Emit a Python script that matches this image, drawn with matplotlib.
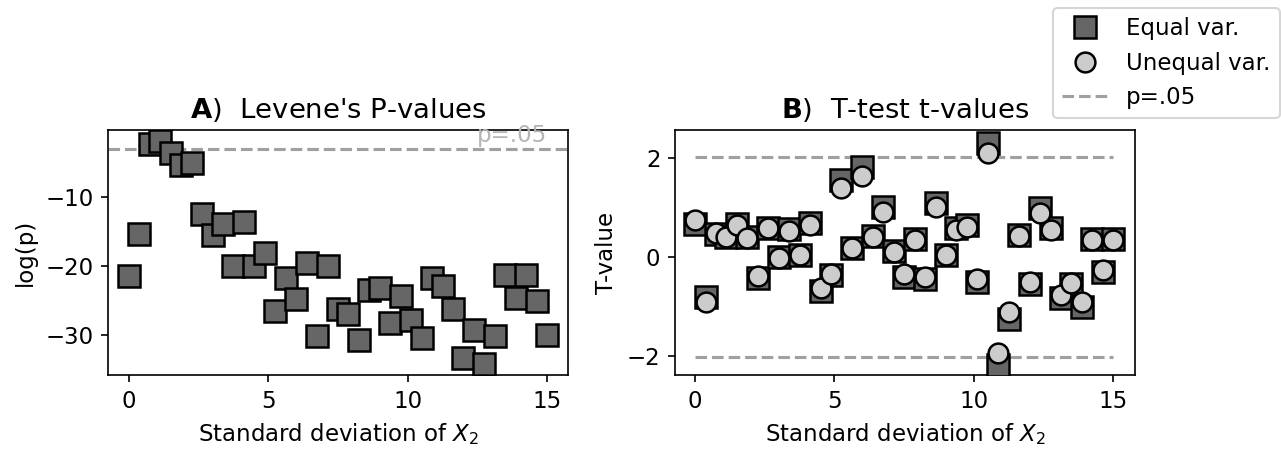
import numpy as np
import matplotlib
matplotlib.use("Agg")
import matplotlib.pyplot as plt

plt.rcParams['font.size'] = 11

# ---- data ----
sd_x2 = np.linspace(0, 15, 41)

levene_logp = [-21.4, -15.3, -2.3, -1.8, -3.6, -5.3, -5.0, -12.4, -15.5, -13.8,
               -19.9, -13.6, -20.0, -18.1, -26.5, -21.7, -24.8, -19.5, -30.2, -20.0,
               -26.2, -27.0, -30.7, -23.5, -23.1, -28.3, -24.3, -27.8, -30.4, -21.7,
               -22.8, -26.2, -33.4, -29.3, -34.2, -30.2, -21.2, -24.6, -21.3, -25.0,
               -30.0]

t_equal = [0.67, -0.81, 0.45, 0.39, 0.66, 0.39, -0.44, 0.59, -0.01, 0.55,
           0.03, 0.69, -0.69, -0.37, 1.55, 0.17, 1.82, 0.42, 1.00, 0.12,
           -0.40, 0.35, -0.46, 1.09, 0.03, 0.59, 0.64, -0.51, 2.29, -2.19,
           -1.25, 0.44, -0.55, 0.98, 0.59, -0.84, -0.55, -1.01, 0.35, -0.30,
           0.35]

t_unequal = [0.74, -0.91, 0.47, 0.39, 0.64, 0.37, -0.39, 0.57, -0.03, 0.51,
             0.03, 0.64, -0.64, -0.34, 1.39, 0.17, 1.63, 0.40, 0.91, 0.10,
             -0.34, 0.34, -0.40, 1.00, 0.03, 0.54, 0.61, -0.46, 2.10, -1.95,
             -1.11, 0.42, -0.51, 0.88, 0.54, -0.77, -0.54, -0.91, 0.34, -0.27,
             0.34]

p05_log = np.log(0.05)
t_crit = 2.02

sq_face = '#666666'
ci_face = '#cccccc'
line_col = '#a0a0a0'

fig = plt.figure(figsize=(12.81 / 1.5, 4.49 / 1.5), dpi=150)
W, H = 1281, 449
ax1 = fig.add_axes([108 / W, (H - 375) / H, 460 / W, 245 / H])
ax2 = fig.add_axes([675 / W, (H - 375) / H, 460 / W, 245 / H])

# Left panel
ax1.plot(sd_x2, levene_logp, 's', ms=11, mfc=sq_face, mec='black', mew=1.2, zorder=3)
ax1.axhline(p05_log, color=line_col, ls='--', lw=1.5, zorder=2)
ax1.text(15, p05_log + 0.3, 'p=.05', color='#b4b4b4', ha='right', va='bottom', fontsize=11)
ax1.set_xlim(-0.75, 15.75)
ax1.set_ylim(-35.8, -0.2)
ax1.set_xticks([0, 5, 10, 15])
ax1.set_yticks([-10, -20, -30])
ax1.set_ylabel('log(p)')
ax1.set_xlabel('Standard deviation of $X_2$')
ax1.set_title(r"$\bf{A}$)  Levene's P-values", fontsize=13.2)

# Right panel
h1, = ax2.plot(sd_x2, t_equal, 's', ms=11, mfc=sq_face, mec='black', mew=1.2, zorder=3,
               label='Equal var.')
h2, = ax2.plot(sd_x2, t_unequal, 'o', ms=9.5, mfc=ci_face, mec='black', mew=1.2, zorder=4,
               label='Unequal var.')
h3, = ax2.plot(sd_x2, np.full_like(sd_x2, t_crit), '--', color=line_col, lw=1.5, zorder=2,
               label='p=.05')
ax2.plot(sd_x2, np.full_like(sd_x2, -t_crit), '--', color=line_col, lw=1.5, zorder=2)
ax2.set_xlim(-0.72, 15.78)
ax2.set_ylim(-2.39, 2.56)
ax2.set_xticks([0, 5, 10, 15])
ax2.set_yticks([-2, 0, 2])
ax2.set_ylabel('T-value')
ax2.set_xlabel('Standard deviation of $X_2$')
ax2.set_title(r"$\bf{B}$)  T-test t-values", fontsize=13.2)

fig.legend(handles=[h1, h2, h3], loc='upper left',
           bbox_to_anchor=(1053 / W, 1 - 8 / H), borderaxespad=0, fontsize=11)

fig.savefig('out.png', dpi=150)
